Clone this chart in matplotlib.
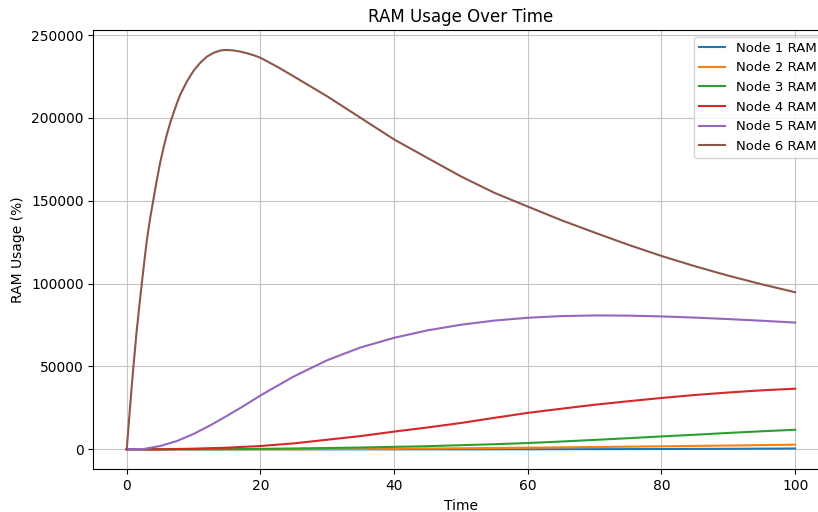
import matplotlib
matplotlib.use("Agg")
import matplotlib.pyplot as plt

# time grid for the slower nodes
t = [0, 5, 10, 15, 20, 25, 30, 35, 40, 45, 50, 55, 60, 65, 70, 75, 80, 85, 90, 95, 100]

node1 = [0, 0, 0, 0, 0, 0, 0, 0, 5, 10, 20, 35, 55, 80, 110, 150, 200, 260, 330, 410, 500]
node2 = [0, 0, 5, 15, 40, 80, 150, 250, 380, 500, 640, 810, 1000, 1200, 1400, 1600, 1820, 2050, 2290, 2540, 2800]
node3 = [0, 0, 30, 120, 300, 520, 800, 1100, 1500, 1900, 2500, 3100, 3800, 4700, 5700, 6700, 7800, 8800, 9900, 10900, 11800]
node4 = [0, 20, 400, 1000, 2000, 3600, 5800, 8000, 10700, 13200, 15900, 19000, 22000, 24500, 26900, 29000, 31000, 32800, 34300, 35600, 36600]

t5 = [0, 2.5, 5, 7.5, 10, 12.5, 15, 17.5, 20, 25, 30, 35, 40, 45, 50, 55, 60, 65, 70, 75, 80, 85, 90, 95, 100]
node5 = [0, 200, 2000, 5000, 9300, 14500, 20200, 26200, 32500, 44000, 53800, 61500, 67300, 71800, 75200, 77700, 79400, 80400,
         80800, 80700, 80200, 79500, 78600, 77600, 76500]

# node 6 rises fast, so it is sampled more densely at the start
t6 = [0, 0.25, 0.5, 0.75, 1, 1.5, 2, 2.5, 3, 3.5, 4, 4.5, 5, 5.5, 6, 6.5, 7, 7.5, 8, 9, 10, 11, 12, 13, 14, 15, 16, 17,
      18, 19, 20, 22.5, 25, 27.5, 30, 35, 40, 45, 50, 55, 60, 65, 70, 75, 80, 85, 90, 95, 100]
node6 = [0, 13000, 25700, 38200, 50000, 72000, 91000, 109000, 126000, 139500, 151000, 162500, 173000, 182000, 190000,
         197000, 203000, 208800, 214000, 222000, 228500, 233300, 237000, 239300, 240700, 241000, 240700, 240000,
         239000, 237800, 236300, 230900, 225000, 219000, 213000, 200000, 187000, 175800, 164700, 154800, 146500,
         138300, 130800, 123500, 116700, 110500, 104800, 99600, 94800]

fig = plt.figure(figsize=(8.18, 5.12), dpi=100)
ax = fig.add_axes([0.1141, 0.0834, 0.8988, 0.858])

ax.plot(t, node1, label="Node 1 RAM")
ax.plot(t, node2, label="Node 2 RAM")
ax.plot(t, node3, label="Node 3 RAM")
ax.plot(t, node4, label="Node 4 RAM")
ax.plot(t5, node5, label="Node 5 RAM")
ax.plot(t6, node6, label="Node 6 RAM")

ax.set_title("RAM Usage Over Time")
ax.set_xlabel("Time")
ax.set_ylabel("RAM Usage (%)")
ax.legend(loc="upper right", fontsize=9.5)
ax.grid(True, color="#c4c4c4")

fig.savefig("out.png", dpi=100)
